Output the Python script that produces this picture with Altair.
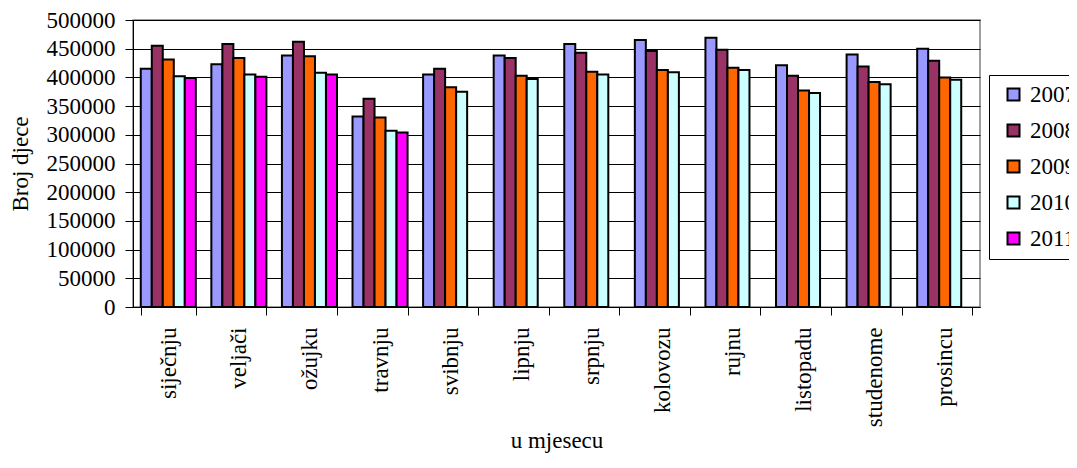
import altair as alt
import pandas as pd

months = ["siječnju", "veljači", "ožujku", "travnju", "svibnju", "lipnju",
          "srpnju", "kolovozu", "rujnu", "listopadu", "studenome", "prosincu"]
years = ["2007.", "2008.", "2009.", "2010.", "2011."]
colors = ["#9999FF", "#993366", "#FF6600", "#CCFFFF", "#FF00FF"]

v2007 = [415000, 423000, 438000, 332000, 405000, 438000, 458000, 465000, 469000, 421000, 440000, 450000]
v2008 = [455000, 458000, 462000, 363000, 415000, 434000, 443000, 446000, 448000, 403000, 419000, 429000]
v2009 = [431000, 434000, 437000, 330000, 383000, 403000, 410000, 413000, 417000, 377000, 392000, 400000]
v2010 = [402000, 405000, 408000, 307000, 375000, 397000, 405000, 409000, 413000, 373000, 388000, 396000]
v2011 = [399000, 401000, 405000, 304000, None, None, None, None, None, None, None, None]

series = [v2007, v2008, v2009, v2010, v2011]
rows = []
for y, vals in zip(years, series):
    for m, v in zip(months, vals):
        if v is not None:
            rows.append({"month": m, "year": y, "value": v})
df = pd.DataFrame(rows)

FONT = "Liberation Serif, Times New Roman, serif"
FS = 23

chart = alt.Chart(df).mark_bar(stroke="black", strokeWidth=2).encode(
    x=alt.X("month:N", sort=months, title="u mjesecu",
            scale=alt.Scale(paddingInner=0.22, paddingOuter=0.11),
            axis=alt.Axis(tickBand="extent", tickSize=8, tickColor="black",
                          domainColor="black", labelAngle=270, labelPadding=12,
                          labelFontSize=FS, labelColor="black",
                          titleFontSize=FS, titleFontWeight="normal",
                          titleColor="black", titleY=133, titleBaseline="middle",
                          grid=False)),
    xOffset=alt.XOffset("year:N", sort=years,
                        scale=alt.Scale(domain=years, paddingInner=0, paddingOuter=0)),
    y=alt.Y("value:Q", title="Broj djece",
            scale=alt.Scale(domain=[0, 500000], nice=False),
            axis=alt.Axis(values=list(range(0, 500001, 50000)), format="d",
                          tickSize=8, tickColor="black", domainColor="black",
                          labelPadding=10, labelFontSize=FS,
                          labelColor="black", titleFontSize=FS,
                          titleFontWeight="normal", titleColor="black",
                          titleX=-113, titleY=143.5, titleBaseline="middle",
                          titleAngle=270, grid=True, gridColor="black",
                          gridWidth=1, gridOpacity=1)),
    color=alt.Color("year:N", sort=years,
                    scale=alt.Scale(domain=years, range=colors),
                    legend=alt.Legend(title=None, orient="none", legendX=856, legendY=55,
                                      strokeColor="black", fillColor="white", padding=8,
                                      symbolType="square", symbolSize=144,
                                      symbolStrokeColor="black", symbolStrokeWidth=2,
                                      symbolOffset=5,
                                      labelFontSize=FS, labelColor="black",
                                      rowPadding=12, labelOffset=5)),
).properties(
    width=847, height=287,
    padding={"left": 125, "top": 12, "right": 89, "bottom": 146},
    autosize=alt.AutoSizeParams(type="none"),
).configure(
    background="white", font=FONT
).configure_axis(
    labelFont=FONT, titleFont=FONT
).configure_legend(
    labelFont=FONT
).configure_view(stroke="#808080", strokeWidth=1.5)

chart.save("out.html", embed_options={"renderer": "svg", "actions": False})
